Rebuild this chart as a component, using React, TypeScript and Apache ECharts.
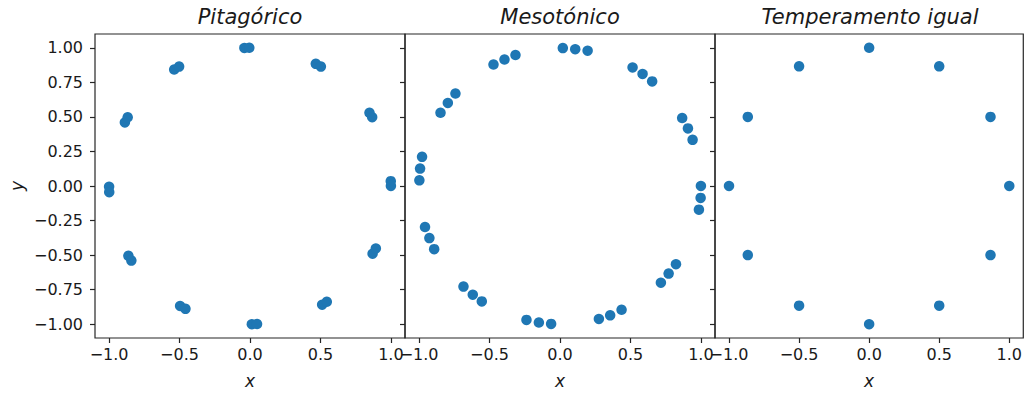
import React, { useEffect, useRef } from "react";
import * as echarts from "echarts";

const titles = ["Pitagórico", "Mesotónico", "Temperamento igual"];
const xTicks = [-1, -0.5, 0, 0.5, 1];
const yTicks = [1, 0.75, 0.5, 0.25, 0, -0.25, -0.5, -0.75, -1];

const pitagorico: number[][] = [
  [-0.04, 0.999], [-0.005, 1.0],
  [0.467, 0.884], [0.503, 0.864],
  [0.848, 0.53], [0.867, 0.498],
  [0.999, 0.035], [1.0, 0.0],
  [0.87, -0.49], [0.893, -0.452],
  [0.512, -0.859], [0.545, -0.838],
  [0.013, -1.0], [0.05, -0.999],
  [-0.496, -0.868], [-0.458, -0.889],
  [-0.863, -0.505], [-0.842, -0.54],
  [-1.0, -0.005], [-0.999, -0.045],
  [-0.888, 0.46], [-0.868, 0.497],
  [-0.538, 0.843], [-0.503, 0.864],
];

const mesotonico: number[][] = [
  [0.02, 0.998], [0.108, 0.99], [0.196, 0.979],
  [0.515, 0.858], [0.586, 0.811], [0.654, 0.757],
  [0.867, 0.492], [0.908, 0.417], [0.941, 0.334],
  [1.0, 0.0], [0.998, -0.086], [0.986, -0.171],
  [0.823, -0.566], [0.771, -0.634], [0.716, -0.7],
  [0.437, -0.896], [0.356, -0.936], [0.276, -0.962],
  [-0.063, -0.998], [-0.15, -0.988], [-0.238, -0.969],
  [-0.555, -0.835], [-0.619, -0.787], [-0.685, -0.728],
  [-0.893, -0.457], [-0.927, -0.377], [-0.958, -0.297],
  [-0.998, 0.041], [-0.993, 0.126], [-0.979, 0.211],
  [-0.848, 0.53], [-0.796, 0.601], [-0.742, 0.669],
  [-0.472, 0.879], [-0.394, 0.915], [-0.316, 0.948],
];

const temperamentoIgual: number[][] = [
  [1, 0], [0.866, 0.5], [0.5, 0.866], [0, 1],
  [-0.5, 0.866], [-0.866, 0.5], [-1, 0], [-0.866, -0.5],
  [-0.5, -0.866], [0, -1], [0.5, -0.866], [0.866, -0.5],
];

const seriesData = [pitagorico, mesotonico, temperamentoIgual];

export default function App() {
  const ref = useRef<HTMLDivElement>(null);
  useEffect(() => {
    if (!ref.current) return;
    const chart = echarts.init(ref.current, null, { renderer: "svg" });
    const font = "DejaVu Sans";
    const ink = "#1a1a1a";
    const lefts = [95, 405, 715];
    const minus = (s: string) => s.replace("-", "\u2212");
    const grids = lefts.map((l) => ({
      left: l,
      top: 34,
      width: 310,
      height: 310,
      show: true,
      borderColor: "#262626",
      borderWidth: 1.2,
      backgroundColor: "transparent",
    }));
    const xAxes = lefts.map((_, i) => ({
      type: "value",
      gridIndex: i,
      min: -1.1,
      max: 1.1,
      axisLine: { show: false, onZero: false },
      splitLine: { show: false },
      axisTick: {
        show: true,
        length: 5,
        customValues: xTicks,
        lineStyle: { color: "#262626", width: 1.2 },
      },
      axisLabel: {
        show: true,
        customValues: xTicks,
        margin: 8,
        fontFamily: font,
        fontSize: 16,
        color: ink,
        formatter: (v: number) => minus(v.toFixed(1)),
      },
      name: "x",
      nameLocation: "middle",
      nameGap: 34,
      nameTextStyle: { fontFamily: font, fontSize: 17, fontStyle: "italic", color: ink },
    }));
    const yAxes = lefts.map((_, i) => ({
      type: "value",
      gridIndex: i,
      min: -1.1,
      max: 1.1,
      axisLine: { show: false, onZero: false },
      splitLine: { show: false },
      axisTick: {
        show: true,
        length: 5,
        customValues: yTicks,
        lineStyle: { color: "#262626", width: 1.2 },
      },
      axisLabel: {
        show: i === 0,
        customValues: yTicks,
        margin: 12,
        fontFamily: font,
        fontSize: 16,
        color: ink,
        formatter: (v: number) => minus(v.toFixed(2)),
      },
      name: i === 0 ? "y" : "",
      nameLocation: "middle",
      nameGap: 70,
      nameTextStyle: { fontFamily: font, fontSize: 17, fontStyle: "italic", color: ink },
    }));
    const series = seriesData.map((d, i) => ({
      type: "scatter",
      xAxisIndex: i,
      yAxisIndex: i,
      data: d,
      symbolSize: 10.5,
      itemStyle: { color: "#1f77b4", opacity: 1 },
    }));
    chart.setOption({
      animation: false,
      grid: grids,
      xAxis: xAxes,
      yAxis: yAxes,
      series,
      graphic: titles.map((t, i) => ({
        type: "text",
        x: lefts[i] + 155,
        y: 17,
        style: {
          text: t,
          fontFamily: font,
          fontSize: 21,
          fontStyle: "italic",
          fill: ink,
          align: "center",
          verticalAlign: "middle",
        },
      })),
    });
    return () => chart.dispose();
  }, []);
  return (
    <div
      ref={ref}
      style={{ position: "fixed", left: 0, top: 0, width: 1025, height: 394, background: "#fff" }}
    />
  );
}
